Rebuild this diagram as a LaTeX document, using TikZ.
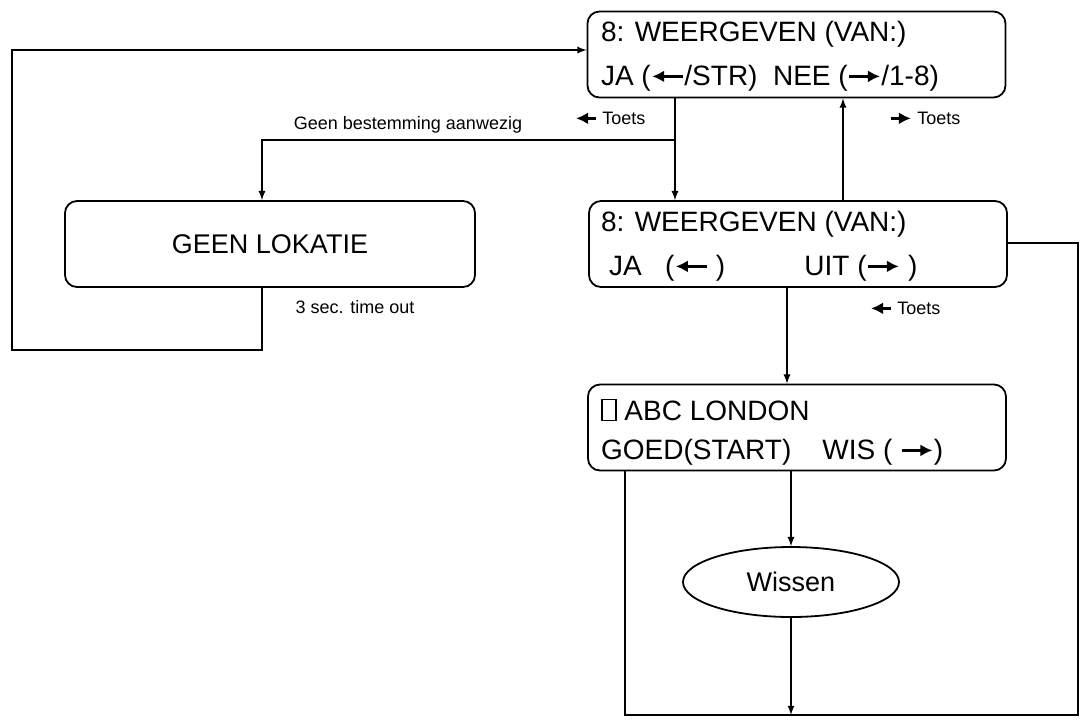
\documentclass[tikz,border=0pt]{standalone}
\usepackage{fontspec}
\setmainfont{Liberation Sans}
\usetikzlibrary{shapes.geometric,arrows.meta}
\newcommand{\la}{\tikz[baseline=-0.6ex]\draw[line width=1.4pt, {Latex[length=6pt,width=6pt]}-] (0,0) -- (0.55em,0) -- (1.1em,0);}
\newcommand{\ra}{\tikz[baseline=-0.6ex]\draw[line width=1.4pt, -{Latex[length=6pt,width=6pt]}] (0,0) -- (1.1em,0);}
\newcommand{\docicon}{\tikz[baseline=0pt]\draw[line width=0.8pt] (0,0) rectangle (0.5em,0.75em);}
\tikzset{
	lcd/.style={draw, rounded corners=6pt, line width=0.9pt, minimum width=209pt, minimum height=43pt, inner sep=0pt},
	line/.style={line width=0.6pt},
	arr/.style={line/.try, -latex},
	lbl/.style={font=\fontsize{9}{10}\selectfont}
}
\begin{document}
\begin{tikzpicture}[x=0.5pt,y=-0.5pt]
	\useasboundingbox (0,0) rectangle (1084,720);
	% boxes
	\node[lcd] (top) at (796.5,54.5) {};
	\node[lcd] (mid) at (798,244) {};
	\node[lcd, minimum width=205pt] (none) at (270,244) {\fontsize{13.5}{15}\selectfont GEEN LOKATIE};
	\node[lcd] (abc) at (797,427.5) {};
	\node[draw, ellipse, line width=0.9pt, minimum width=108pt, minimum height=35pt] (wis) at (791,582) {\fontsize{13.5}{15}\selectfont Wissen};

	\begin{scope}[font=\fontsize{14}{16}\selectfont]
	\node[anchor=west] (t1) at (594,34) {8: WEERGEVEN (VAN:)};
	\node[anchor=west] (t2) at (594,78) {JA (\la/STR)\ \ NEE (\ra/1-8)};
	\node[anchor=west] (m1) at (594,224) {8: WEERGEVEN (VAN:)};
	\node[anchor=west] (m2) at (602,268) {JA\ \ \ (\la\ )\qquad\ \ \ UIT (\ra\ )};
	\node[anchor=west] (a1) at (594,410) {\docicon\ ABC LONDON};
	\node[anchor=west] (a2) at (594,452) {GOED(START)\ \ \ \ WIS (\ \ra)};
	\end{scope}

	% coordinates
	\coordinate (split) at (675,140);
	\coordinate (lturn) at (262,140);
	\coordinate (b1) at (262,350);
	\coordinate (b2) at (12,350);
	\coordinate (b3) at (12,50);
	\coordinate (r1) at (1078,243);
	\coordinate (r2) at (1078,715);
	\coordinate (r3) at (625,715);
	\coordinate (end) at (791,715);

	% connectors
	\draw[arr] (top.south -| split) -- (mid.north -| split);
	\draw[arr] (split) -- (lturn) -- (none.north -| lturn);
	\draw[arr] (mid.north -| 843,0) -- (top.south -| 843,0);
	\draw[arr] (none.south -| b1) -- (b1) -- (b2) -- (b3) -- (top.west |- b3);
	\draw[arr] (mid.south -| 787,0) -- (abc.north -| 787,0);
	\draw[arr] (abc.south -| wis) -- (wis.north);
	\draw[arr] (wis.south) -- (end);
	\draw[line] (mid.east |- r1) -- (r1) -- (r2) -- (r3) -- (abc.south -| r3);

	% labels
	\node[lbl] (l1) at (408,125) {Geen bestemming aanwezig};
	\node[lbl] (l2) at (610,118) {\la\ Toets};
	\node[lbl] (l3) at (925,118) {\ra\ Toets};
	\node[lbl] (l4) at (355,307) {3 sec. time out};
	\node[lbl] (l5) at (905,308) {\la\ Toets};
\end{tikzpicture}
\end{document}
